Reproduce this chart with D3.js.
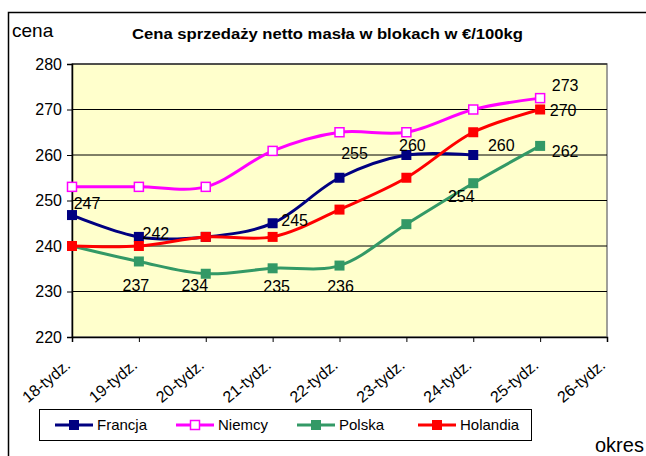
<!DOCTYPE html>
<html>
<head>
<meta charset="utf-8">
<script src="https://cdn.jsdelivr.net/npm/d3@7"></script>
<style>
  body { margin: 0; background: #fff; }
  text { font-family: "Liberation Sans", Arial, sans-serif; fill: #000; }
</style>
</head>
<body>
<div id="chart"></div>
<script>
// data
var weeks = ["18-tydz.", "19-tydz.", "20-tydz.", "21-tydz.", "22-tydz.", "23-tydz.", "24-tydz.", "25-tydz.", "26-tydz."];
var francja  = [246.8, 242, 242, 245, 255, 260, 260];
var niemcy   = [253, 253, 253, 260.9, 265, 265, 270, 272.5];
var polska   = [240, 236.6, 233.9, 235.1, 235.7, 244.8, 253.8, 262];
var holandia = [240, 240, 242, 242, 248, 255, 265, 270];
var yTicks = [220, 230, 240, 250, 260, 270, 280];
var seriesNames = ["Francja", "Niemcy", "Polska", "Holandia"];

var series = [
  {name: seriesNames[0], values: francja,  color: "#000080", hollow: false},
  {name: seriesNames[1], values: niemcy,   color: "#FF00FF", hollow: true},
  {name: seriesNames[2], values: polska,   color: "#339966", hollow: false},
  {name: seriesNames[3], values: holandia, color: "#FF0000", hollow: false}
];

// which points get a value label, and where it sits relative to the point
var labelOffsets = {
  "Francja":  {0: [15, -12], 1: [17, -4], 3: [22, -3], 4: [15, -24], 5: [6, -10], 6: [28, -10]},
  "Niemcy":   {7: [25, -13]},
  "Polska":   {1: [-3, 24], 2: [-11, 12], 3: [4, 18], 4: [1, 21], 6: [-12, 13], 7: [25, 5]},
  "Holandia": {7: [23, 1]}
};

var W = 646, H = 456;
var plot = {left: 72, top: 64, right: 607, bottom: 337};

var svg = d3.select("#chart").append("svg")
    .attr("width", W)
    .attr("height", H);

// outer frame (only top and left edges visible)
svg.append("path")
    .attr("d", "M8.5,456 L8.5,12.5 L646,12.5")
    .attr("fill", "none")
    .attr("stroke", "#000")
    .attr("stroke-width", 1.5);

var x = d3.scalePoint()
    .domain(weeks)
    .range([plot.left, plot.right]);

var y = d3.scaleLinear()
    .domain([220, 280])
    .range([plot.bottom, plot.top]);

// plot area
svg.append("rect")
    .attr("x", plot.left)
    .attr("y", plot.top)
    .attr("width", plot.right - plot.left)
    .attr("height", plot.bottom - plot.top)
    .attr("fill", "#FFFFCC")
    .attr("stroke", "#808080")
    .attr("stroke-width", 1.5);

// gridlines
svg.append("g").selectAll("line")
    .data(yTicks.slice(1))
    .enter().append("line")
    .attr("x1", plot.left)
    .attr("x2", plot.right)
    .attr("y1", function(d) { return y(d); })
    .attr("y2", function(d) { return y(d); })
    .attr("stroke", "#000")
    .attr("stroke-width", 1);

// y axis
var yAxis = svg.append("g")
    .attr("transform", "translate(" + plot.left + ",0)")
    .call(d3.axisLeft(y).tickValues(yTicks).tickSize(5).tickPadding(5));
yAxis.select(".domain").attr("stroke", "#000").attr("stroke-width", 1.5);
yAxis.selectAll(".tick line").attr("stroke", "#000");
yAxis.selectAll(".tick text")
    .style("font-size", "16px")
    .style("font-family", "Liberation Sans, Arial, sans-serif")
    .attr("fill", "#000");

// x axis
var xAxis = svg.append("g")
    .attr("transform", "translate(0," + plot.bottom + ")")
    .call(d3.axisBottom(x).tickSize(5).tickPadding(4));
xAxis.select(".domain").attr("stroke", "#000").attr("stroke-width", 1.5);
xAxis.selectAll(".tick line").attr("stroke", "#000");
xAxis.selectAll(".tick text")
    .style("font-size", "16px")
    .style("font-family", "Liberation Sans, Arial, sans-serif")
    .attr("fill", "#000")
    .attr("text-anchor", "end")
    .attr("dy", null)
    .attr("y", 0)
    .attr("transform", "translate(-1,30) rotate(-40)");

// lines
var line = d3.line()
    .x(function(d, i) { return x(weeks[i]); })
    .y(function(d) { return y(d); })
    .curve(d3.curveCatmullRom.alpha(0.5));

var g = svg.selectAll(".series")
    .data(series)
    .enter().append("g")
    .attr("class", "series");

g.append("path")
    .attr("d", function(d) { return line(d.values); })
    .attr("fill", "none")
    .attr("stroke", function(d) { return d.color; })
    .attr("stroke-width", 3);

g.each(function(s) {
  var sel = d3.select(this).selectAll("rect")
      .data(s.values)
      .enter().append("rect");
  if (s.hollow) {
    sel.attr("x", function(d, i) { return x(weeks[i]) - 4.5; })
        .attr("y", function(d) { return y(d) - 4.5; })
        .attr("width", 9).attr("height", 9)
        .attr("fill", "#fff")
        .attr("stroke", s.color)
        .attr("stroke-width", 1.5);
  } else {
    sel.attr("x", function(d, i) { return x(weeks[i]) - 5; })
        .attr("y", function(d) { return y(d) - 5; })
        .attr("width", 10).attr("height", 10)
        .attr("fill", s.color);
  }
});

// value labels
series.forEach(function(s) {
  var offs = labelOffsets[s.name] || {};
  s.values.forEach(function(v, i) {
    var o = offs[i];
    if (!o) return;
    svg.append("text")
        .attr("x", x(weeks[i]) + o[0])
        .attr("y", y(v) + o[1])
        .attr("text-anchor", "middle")
        .attr("dy", "0.35em")
        .style("font-size", "16px")
        .text(Math.round(v));
  });
});

// titles
svg.append("text")
    .attr("x", 132)
    .attr("y", 39)
    .attr("textLength", 391)
    .attr("lengthAdjust", "spacingAndGlyphs")
    .style("font-size", "14px")
    .style("font-weight", "bold")
    .text("Cena sprzedaży netto masła w blokach w €/100kg");

svg.append("text")
    .attr("x", 12)
    .attr("y", 37)
    .style("font-size", "19px")
    .text("cena");

svg.append("text")
    .attr("x", 595)
    .attr("y", 452)
    .style("font-size", "20px")
    .text("okres");

// legend
var legend = svg.append("g");
legend.append("rect")
    .attr("x", 39.5)
    .attr("y", 409.5)
    .attr("width", 492)
    .attr("height", 31)
    .attr("fill", "#fff")
    .attr("stroke", "#000")
    .attr("stroke-width", 1);

var legendX = d3.scalePoint()
    .domain(seriesNames)
    .range([55, 418]);

var li = legend.selectAll(".item")
    .data(series)
    .enter().append("g")
    .attr("transform", function(d) { return "translate(" + legendX(d.name) + ",425)"; });

li.append("line")
    .attr("x1", 0).attr("x2", 38)
    .attr("stroke", function(d) { return d.color; })
    .attr("stroke-width", 3);

li.append("rect")
    .attr("x", function(d) { return d.hollow ? 14.5 : 14; })
    .attr("y", function(d) { return d.hollow ? -4.5 : -5; })
    .attr("width", function(d) { return d.hollow ? 9 : 10; })
    .attr("height", function(d) { return d.hollow ? 9 : 10; })
    .attr("fill", function(d) { return d.hollow ? "#fff" : d.color; })
    .attr("stroke", function(d) { return d.hollow ? d.color : "none"; })
    .attr("stroke-width", 1.5);

li.append("text")
    .attr("x", 42)
    .attr("dy", "0.35em")
    .style("font-size", "15px")
    .text(function(d) { return d.name; });
</script>
</body>
</html>
